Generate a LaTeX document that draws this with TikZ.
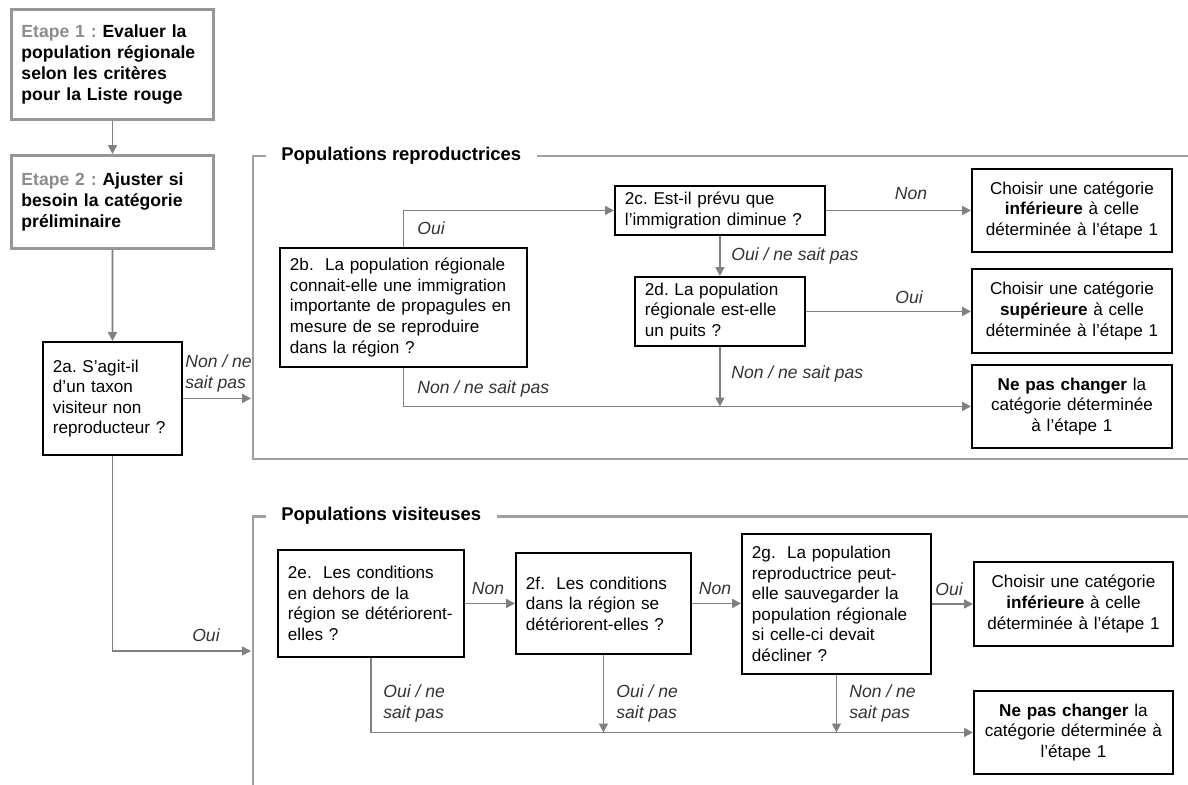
\documentclass[tikz,border=0pt]{standalone}
\usepackage{fontspec}
\setmainfont{Liberation Sans}
\usepackage{xcolor}
\usepackage{tikz}
\usetikzlibrary{arrows.meta, positioning, calc}
\frenchspacing

\definecolor{linegray}{RGB}{128,128,128}
\definecolor{framegray}{RGB}{160,160,160}
\definecolor{stepgray}{RGB}{150,150,150}
\definecolor{steplabel}{RGB}{140,140,140}

\tikzset{
  qbox/.style={draw=black, line width=1.1pt, align=left, anchor=north west, inner xsep=0.2cm, inner ysep=0pt},
  endbox/.style={draw=black, line width=1.1pt, align=center, anchor=north west, inner xsep=0.1cm, inner ysep=0pt},
  stepbox/.style={draw=stepgray, line width=1.7pt, align=left, anchor=north west, inner xsep=0.2cm, inner ysep=0pt, font=\bfseries},
  conn/.style={draw=linegray, line width=1pt, -{Triangle[length=5pt,width=5pt]}},
  frame/.style={draw=framegray, line width=1.7pt},
  grptitle/.style={anchor=west, inner xsep=0.3cm, font=\bfseries\fontsize{10.5}{12}\selectfont},
  lbl/.style={font=\itshape, text=black!80, inner sep=0pt}
}

\begin{document}
\begin{tikzpicture}[x=0.02cm, y=-0.02cm, font=\fontsize{9.75}{11.7}\selectfont]
\useasboundingbox (0,0) rectangle (1188,785);

% Steps 1 and 2
\node[stepbox, text width=3.64cm, minimum width=4.04cm, minimum height=2.2cm] (step1) at (10,8)
  {{\color{steplabel}Etape 1 :} Evaluer la\\population régionale\\selon les critères\\pour la Liste rouge};
\node[stepbox, text width=3.64cm, minimum width=4.04cm, minimum height=1.86cm] (step2) at (10,154)
  {{\color{steplabel}Etape 2 :} Ajuster si\\besoin la catégorie\\préliminaire};
\node[qbox, text width=2.38cm, minimum width=2.78cm, minimum height=2.26cm] (q2a) at (42,341)
  {2a. S’agit-il\\d’un taxon\\visiteur non\\reproducteur ?};

% Group frames
\node[grptitle] (ttlrep) at (266,156) {Populations reproductrices};
\draw[frame] (ttlrep.west) -- (253,156) -- (253,459) -- (1188,459);
\draw[frame] (ttlrep.east) -- (1188,156);
\node[grptitle] (ttlvis) at (266,516) {Populations visiteuses};
\draw[frame] (ttlvis.west) -- (253,516) -- (253,785);
\draw[frame] (ttlvis.east) -- (1188,516);
\coordinate (inrep) at (251,398);
\coordinate (invis) at (251,651);

% Breeding populations
\node[qbox, text width=4.54cm, minimum width=4.94cm, minimum height=2.38cm] (q2b) at (279,247)
  {2b.\ \ La population régionale\\connait-elle une immigration\\importante de propagules en\\mesure de se reproduire\\dans la région ?};
\node[qbox, text width=3.8cm, minimum width=4.2cm, minimum height=0.98cm] (q2c) at (614,185)
  {2c. Est-il prévu que\\l’immigration diminue ?};
\node[qbox, text width=3.0cm, minimum width=3.4cm, minimum height=1.38cm] (q2d) at (634,276)
  {2d. La population\\régionale est-elle\\un puits ?};
\node[endbox, text width=3.8cm, minimum width=4.0cm, minimum height=1.66cm] (r1) at (971,168)
  {Choisir une catégorie\\\textbf{inférieure} à celle\\déterminée à l’étape 1};
\node[endbox, text width=3.8cm, minimum width=4.0cm, minimum height=1.68cm] (r2) at (971,268)
  {Choisir une catégorie\\\textbf{supérieure} à celle\\déterminée à l’étape 1};
\node[endbox, text width=3.8cm, minimum width=4.0cm, minimum height=1.66cm] (r3) at (971,364)
  {\textbf{Ne pas changer} la\\catégorie déterminée\\à l’étape 1};

% Visiting populations
\node[qbox, text width=3.32cm, minimum width=3.72cm, minimum height=2.14cm] (q2e) at (277,549)
  {2e.\ \ Les conditions\\en dehors de la\\région se détériorent-\\elles ?};
\node[qbox, text width=3.1cm, minimum width=3.5cm, minimum height=2.02cm] (q2f) at (515,552)
  {2f.\ \ Les conditions\\dans la région se\\détériorent-elles ?};
\node[qbox, text width=3.38cm, minimum width=3.78cm, minimum height=2.8cm] (q2g) at (741,533)
  {2g.\ \ La population\\reproductrice peut-\\elle sauvegarder la\\population régionale\\si celle-ci devait\\décliner ?};
\node[endbox, text width=3.78cm, minimum width=3.98cm, minimum height=1.68cm] (v1) at (973,561)
  {Choisir une catégorie\\\textbf{inférieure} à celle\\déterminée à l’étape 1};
\node[endbox, text width=3.78cm, minimum width=3.98cm, minimum height=1.66cm] (v2) at (973,690)
  {\textbf{Ne pas changer} la\\catégorie déterminée à\\l’étape 1};

% Connectors
\draw[conn] (step1.south) -- (step2.north);
\draw[conn] (step2.south) -- (q2a.north);
\draw[conn] (q2a.east) -- (q2a.east -| inrep);
\draw[conn] (q2a.south) |- (invis);
\draw[conn] (q2b.north) |- (q2c.west);
\draw[conn] (q2c.east) -- (q2c.east -| r1.west);
\draw[conn] (q2c.south) -- (q2d.north);
\draw[conn] (q2d.east) -- (q2d.east -| r2.west);
\draw[conn] (q2d.south) -- (q2d.south |- r3.west);
\draw[conn] (q2b.south) |- (r3.west);
\draw[conn] (q2e.east) -- (q2e.east -| q2f.west);
\draw[conn] (q2f.east) -- (q2f.east -| q2g.west);
\draw[conn] (q2g.east) -- (q2g.east -| v1.west);
\draw[conn] (q2e.south) |- (v2.west);
\draw[conn] (q2f.south) -- (q2f.south |- v2.west);
\draw[conn] (q2g.south) -- (q2g.south |- v2.west);

% Labels
\node[lbl, anchor=west, align=left] (l2a) at (185,373) {Non / ne\\sait pas};
\node[lbl] (l2aoui) at (206,635) {Oui};
\node[lbl, anchor=west] (l2boui) at (417,228) {Oui};
\node[lbl, anchor=west] (l2bnon) at (417,389) {Non / ne sait pas};
\node[lbl] (l2cnon) at (911,194) {Non};
\node[lbl, anchor=west] (l2coui) at (731,256) {Oui / ne sait pas};
\node[lbl] (l2doui) at (909,297) {Oui};
\node[lbl, anchor=west] (l2dnon) at (731,374) {Non / ne sait pas};
\node[lbl] (l2enon) at (488,589) {Non};
\node[lbl] (l2fnon) at (715,589) {Non};
\node[lbl] (l2goui) at (949,589) {Oui};
\node[lbl, anchor=west, align=left] (l2eoui) at (383,703) {Oui / ne\\sait pas};
\node[lbl, anchor=west, align=left] (l2foui) at (616,703) {Oui / ne\\sait pas};
\node[lbl, anchor=west, align=left] (l2gnon) at (849,703) {Non / ne\\sait pas};
\end{tikzpicture}
\end{document}
